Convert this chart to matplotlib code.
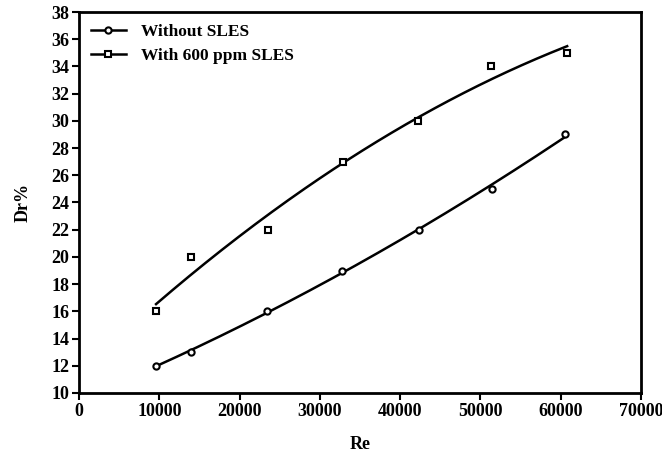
import numpy as np
import matplotlib
matplotlib.use("Agg")
import matplotlib.pyplot as plt

plt.rcParams['font.family'] = ['Liberation Serif', 'DejaVu Serif']
plt.rcParams['font.weight'] = 'bold'

# data
re_without = [9600, 14000, 23400, 32700, 42300, 51500, 60500]
dr_without = [12, 13, 16, 19, 22, 25, 29]
re_with = [9600, 14000, 23500, 32900, 42200, 51300, 60800]
dr_with = [16, 20, 22, 27, 30, 34, 35]

labels = ['Without SLES', 'With 600 ppm SLES']

fig = plt.figure(figsize=(6.62, 4.62), dpi=100)
ax = fig.add_axes([0.1193, 0.1494, 0.849, 0.8246])

# quadratic trend lines through each series
for x, y, m, lab in [(re_without, dr_without, 'o', labels[0]), (re_with, dr_with, 's', labels[1])]:
    c = np.polyfit(x, y, 2)
    xs = np.linspace(min(x), max(x), 200)
    ax.plot(xs, np.polyval(c, xs), color='black', lw=1.8)
    ax.plot(x, y, linestyle='none', marker=m, ms=4.5, mfc='white', mec='black', mew=1.5)
    ax.plot([], [], color='black', lw=1.8, marker=m, ms=4.5, mfc='white', mec='black', mew=1.5, label=lab)

ax.set_xlim(0, 70000)
ax.set_ylim(10, 38)
ax.set_xticks(np.arange(0, 70001, 10000))
ax.set_yticks(np.arange(10, 39, 2))
ax.tick_params(direction='out', length=5, width=1.5, labelsize=13, pad=2, top=False, right=False)
for s in ax.spines.values():
    s.set_linewidth(2)

ax.set_xlabel('Re', fontsize=13, fontweight='bold', labelpad=12)
ax.set_ylabel('Dr%', fontsize=13, fontweight='bold', labelpad=14)

ax.legend(loc='upper left', frameon=False, fontsize=12.5, handlelength=2.0,
          borderaxespad=0.3, labelspacing=0.45, handletextpad=0.9)

fig.savefig('out.png', dpi=100)
